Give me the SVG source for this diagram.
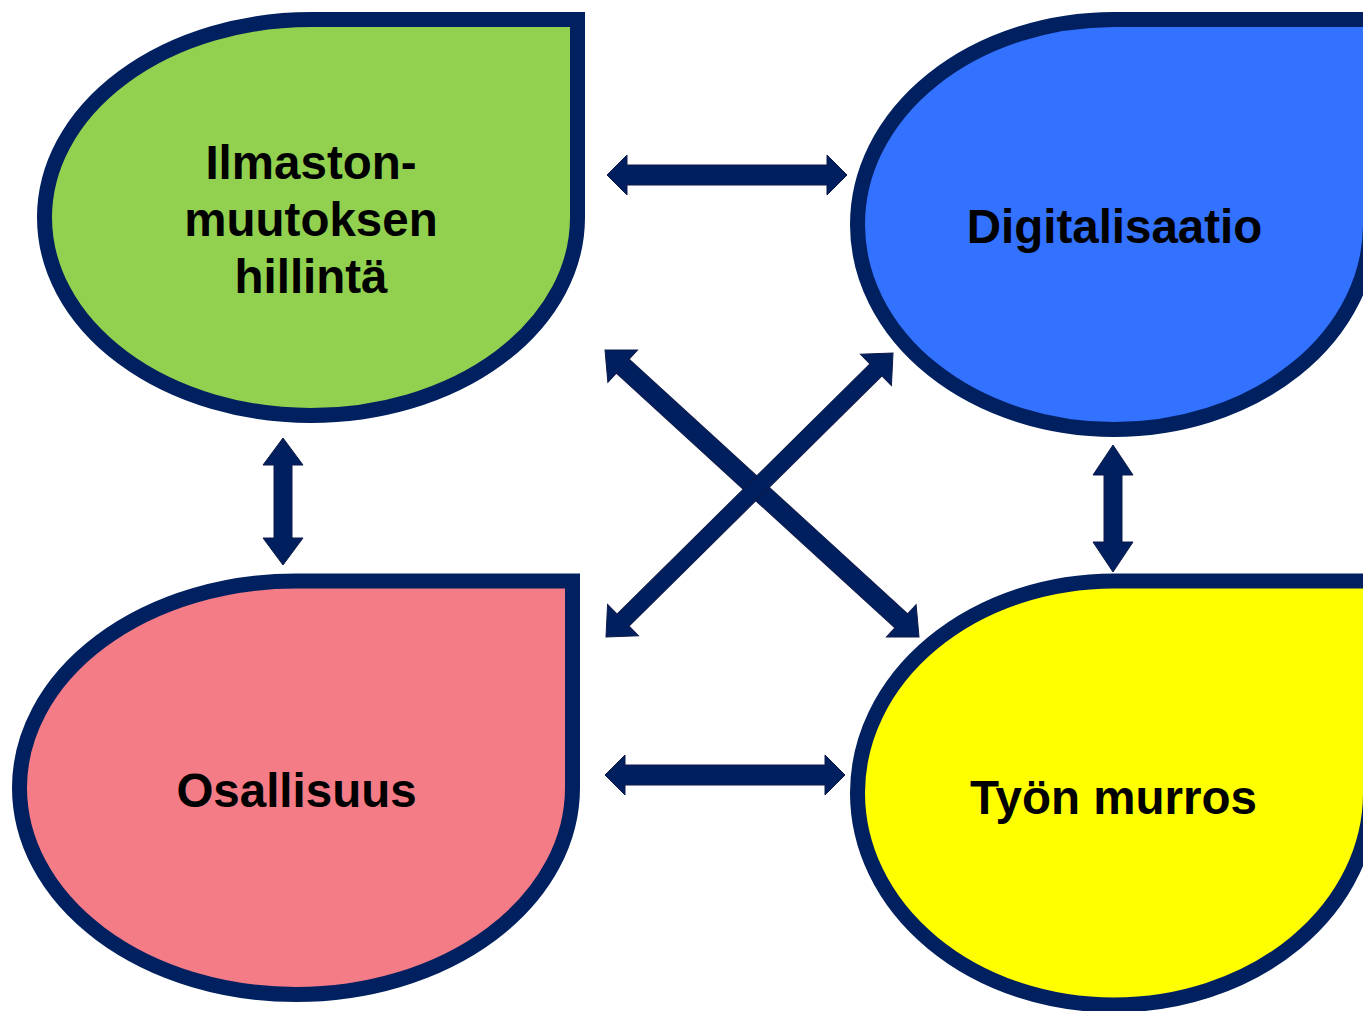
<svg xmlns="http://www.w3.org/2000/svg" width="1363" height="1011" viewBox="0 0 1363 1011">
<style>
.shape{stroke:#002060;stroke-width:15;stroke-linejoin:miter}
.lbl{font-family:"Liberation Sans",Arial,sans-serif;font-weight:bold;font-size:47.5px;fill:#000;text-anchor:middle}
.arr{fill:#001F5F;stroke:#0E1B4A;stroke-width:1}
</style>
<rect width="1363" height="1011" fill="#ffffff"/>
<g id="connectors">
<polygon class="arr" points="607,175 627,155 627,165 827,165 827,155 847,175 827,195 827,185 627,185 627,195"/>
<polygon class="arr" points="605,775 625,755 625,765 825,765 825,755 845,775 825,795 825,785 625,785 625,795"/>
<polygon class="arr" points="283,438 303,465 292,465 292,538 303,538 283,565 263,538 274,538 274,465 263,465"/>
<polygon class="arr" points="1113,445 1133,475 1122,475 1122,542 1133,542 1113,572 1093,542 1104,542 1104,475 1093,475"/>
<polygon class="arr" transform="translate(762,493.5) rotate(42.43)" points="-212.7,0 -188.7,-22 -188.7,-9.5 188.7,-9.5 188.7,-22 212.7,0 188.7,22 188.7,9.5 -188.7,9.5 -188.7,22"/>
<polygon class="arr" transform="translate(749.5,495) rotate(-44.7)" points="-201.9,0 -177.9,-22 -177.9,-8.5 177.9,-8.5 177.9,-22 201.9,0 177.9,22 177.9,8.5 -177.9,8.5 -177.9,22"/>
</g>
<g id="node-ilmasto">
<path class="shape" fill="#92D050" d="M311,19.5 H577.5 V217.5 A266.5,198 0 0 1 311,415.5 A266.5,198 0 0 1 44.5,217.5 A266.5,198 0 0 1 311,19.5 Z"/>
<text class="lbl" x="311" y="179">Ilmaston-</text>
<text class="lbl" x="311" y="236">muutoksen</text>
<text class="lbl" x="311" y="293">hillintä</text>
</g>
<g id="node-digitalisaatio">
<path class="shape" fill="#3371FF" d="M1114,19.5 H1370.5 V224.5 A256.5,205 0 0 1 1114,429.5 A256.5,205 0 0 1 857.5,224.5 A256.5,205 0 0 1 1114,19.5 Z"/>
<text class="lbl" x="1114.5" y="243">Digitalisaatio</text>
</g>
<g id="node-osallisuus">
<path class="shape" fill="#F47C87" d="M296,581 H572.5 V787.75 A276.5,206.75 0 0 1 296,994.5 A276.5,206.75 0 0 1 19.5,787.75 A276.5,206.75 0 0 1 296,581 Z"/>
<text class="lbl" x="296.5" y="807">Osallisuus</text>
</g>
<g id="node-tyon-murros">
<path class="shape" fill="#FFFF00" d="M1114,581 H1370.5 V793 A256.5,212 0 0 1 1114,1005 A256.5,212 0 0 1 857.5,793 A256.5,212 0 0 1 1114,581 Z"/>
<text class="lbl" x="1113.5" y="814">Työn murros</text>
</g>
</svg>
